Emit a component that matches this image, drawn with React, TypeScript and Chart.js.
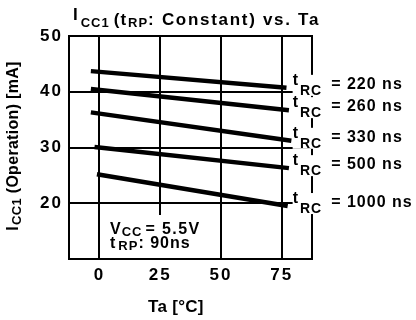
import { useEffect, useRef } from "react";
import { Chart, registerables } from "chart.js";

Chart.register(...registerables);

const FONT = '"Liberation Sans", Arial, sans-serif';

// Ambient temperature axis (°C)
const taMin = -12.5;
const taMax = 87.5;
const taTicks = [0, 25, 50, 75];

// Operating supply current axis (mA)
const iccMin = 10;
const iccMax = 50;
const iccTicks = [20, 30, 40, 50];

// One curve per read-cycle time t_RC (ns)
const trcLabels = ["220", "260", "330", "500", "1000"];
const taFrom = [-3.5, -3.5, -3.5, -2, -1];
const taTo = [77, 78, 79, 78, 77.5];
const iccFrom = [43.7, 40.5, 36.3, 30.1, 25.2];
const iccTo = [40.7, 36.7, 31.2, 26.3, 19.5];

type Piece = { text: string; size: number; dy?: number; dx?: number; ls?: number };

function setFont(ctx: CanvasRenderingContext2D, p: Piece) {
  ctx.font = `bold ${p.size}px ${FONT}`;
  (ctx as any).letterSpacing = `${p.ls ?? 1}px`;
}

function measurePieces(ctx: CanvasRenderingContext2D, pieces: Piece[]) {
  let w = 0;
  for (const p of pieces) {
    setFont(ctx, p);
    w += (p.dx ?? 0) + ctx.measureText(p.text).width;
  }
  return w;
}

function drawPieces(ctx: CanvasRenderingContext2D, x: number, y: number, pieces: Piece[]) {
  let cx = x;
  for (const p of pieces) {
    cx += p.dx ?? 0;
    setFont(ctx, p);
    ctx.fillText(p.text, cx, y + (p.dy ?? 0));
    cx += ctx.measureText(p.text).width;
  }
  return cx - x;
}

const overlay = {
  id: "overlay",
  beforeDraw(chart: any) {
    // wide tracking for the axis tick numbers
    (chart.ctx as any).letterSpacing = "2px";
  },
  afterDraw(chart: any) {
    const { ctx, chartArea: a, scales } = chart;
    const xs = scales.x;
    const ys = scales.y;
    ctx.save();
    ctx.textAlign = "left";
    ctx.textBaseline = "alphabetic";
    ctx.strokeStyle = "#000";
    ctx.fillStyle = "#000";

    // plot frame
    ctx.lineWidth = 2;
    ctx.strokeRect(a.left, a.top, a.right - a.left, a.bottom - a.top);

    // curve labels at the right-hand ends
    const lx = xs.getPixelForValue(75) + 11;
    trcLabels.forEach((lab, i) => {
      const by = ys.getPixelForValue(iccTo[i]) + 1;
      const pieces: Piece[] = [
        { text: "t", size: 16, dy: -4 },
        { text: "RC", size: 14, dy: 6, dx: 1 },
        { text: `= ${lab} ns`, size: 16, dx: 9 },
      ];
      const w = measurePieces(ctx, pieces);
      ctx.fillStyle = "#fff";
      ctx.fillRect(lx, by - 14, w + 2, 21);
      ctx.fillStyle = "#000";
      drawPieces(ctx, lx, by, pieces);
    });

    // operating conditions note
    const bx0 = a.left + 34;
    const bx1 = a.left + 143;
    const by0 = a.bottom - 44;
    ctx.fillStyle = "#fff";
    ctx.fillRect(bx0, by0, bx1 - bx0, a.bottom - 1 - by0);
    ctx.fillStyle = "#000";
    drawPieces(ctx, a.left + 41, a.bottom - 25, [
      { text: "V", size: 16 },
      { text: "CC", size: 13, dy: 2, dx: 0 },
      { text: "= 5.5V", size: 16, dx: 3, ls: 1.4 },
    ]);
    drawPieces(ctx, a.left + 41, a.bottom - 11, [
      { text: "t", size: 16 },
      { text: "RP", size: 13, dy: 2, dx: 2 },
      { text: ": 90ns", size: 16 },
    ]);

    // chart title
    drawPieces(ctx, 73, 25, [
      { text: "I", size: 17, dy: -5 },
      { text: "CC1", size: 13, dy: 2, dx: 2 },
      { text: "(t", size: 17, dx: 4 },
      { text: "RP", size: 13, dy: 2, dx: 1 },
      { text: ": Constant) vs. Ta", size: 17, ls: 1.7 },
    ]);

    // x-axis title
    const xt: Piece[] = [{ text: "Ta [°C]", size: 17, ls: 0.3 }];
    const xw = measurePieces(ctx, xt);
    drawPieces(ctx, xs.getPixelForValue(31.5) - xw / 2, 312, xt);

    // y-axis title, rotated
    const yt: Piece[] = [
      { text: "I", size: 16, ls: 0.3 },
      { text: "CC1", size: 13, dy: 3, dx: 1, ls: 0.3 },
      { text: " (Operation) [mA]", size: 16, ls: 0.3 },
    ];
    const yw = measurePieces(ctx, yt);
    ctx.translate(18, 146);
    ctx.rotate(-Math.PI / 2);
    drawPieces(ctx, -yw / 2, 0, yt);

    ctx.restore();
    (ctx as any).letterSpacing = "0px";
  },
};

export default function App() {
  const ref = useRef<HTMLCanvasElement | null>(null);

  useEffect(() => {
    if (!ref.current) return;
    const chart = new Chart(ref.current, {
      type: "line",
      data: {
        datasets: trcLabels.map((lab, i) => ({
          label: `tRC = ${lab} ns`,
          data: [
            { x: taFrom[i], y: iccFrom[i] },
            { x: taTo[i], y: iccTo[i] },
          ],
          borderColor: "#000",
          borderWidth: 4.5,
          borderCapStyle: "butt" as const,
          pointRadius: 0,
          fill: false,
          tension: 0,
        })),
      },
      options: {
        animation: false,
        responsive: true,
        maintainAspectRatio: false,
        layout: { padding: { top: 36, right: 104, left: 0, bottom: 0 } },
        plugins: {
          legend: { display: false },
          tooltip: { enabled: false },
          title: { display: false },
        },
        scales: {
          x: {
            type: "linear",
            min: taMin,
            max: taMax,
            afterBuildTicks: (s: any) => {
              s.ticks = taTicks.map((v) => ({ value: v }));
            },
            afterFit: (s: any) => {
              s.height = 61;
            },
            ticks: {
              color: "#000",
              padding: 6,
              maxRotation: 0,
              font: { family: FONT, size: 17, weight: "bold" },
            },
            grid: { color: "#000", lineWidth: 2, drawTicks: false },
            border: { color: "#000", width: 2 },
          },
          y: {
            type: "linear",
            min: iccMin,
            max: iccMax,
            afterBuildTicks: (s: any) => {
              s.ticks = iccTicks.map((v) => ({ value: v }));
            },
            afterFit: (s: any) => {
              s.width = 69;
            },
            ticks: {
              color: "#000",
              padding: 6,
              font: { family: FONT, size: 17, weight: "bold" },
            },
            grid: { color: "#000", lineWidth: 2, drawTicks: false },
            border: { color: "#000", width: 2 },
          },
        },
      },
      plugins: [overlay],
    });
    return () => chart.destroy();
  }, []);

  return (
    <div style={{ position: "absolute", left: 0, top: 0, width: 416, height: 320, background: "#fff" }}>
      <canvas ref={ref} />
    </div>
  );
}
